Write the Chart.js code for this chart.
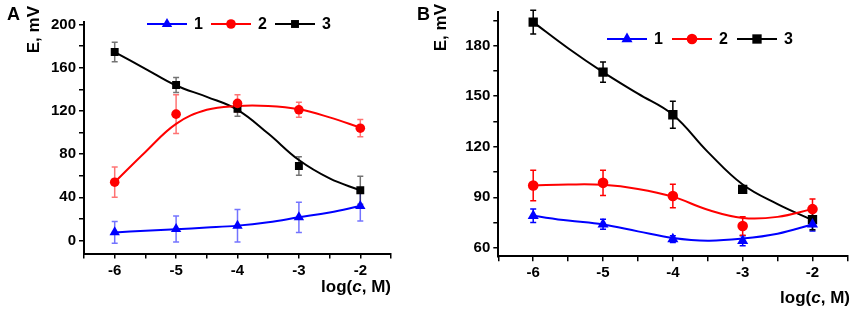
<!DOCTYPE html>
<html>
<head>
<meta charset="utf-8">
<script src="https://cdn.jsdelivr.net/npm/chart.js@4.4.0/dist/chart.umd.min.js"></script>
<style>
  body { margin: 0; background: #fff; }
  #wrap { position: relative; width: 854px; height: 310px; }
  #chartA { position: absolute; left: 0; top: 0; }
  #chartB { position: absolute; left: 415px; top: 0; }
</style>
</head>
<body>
<div id="wrap">
  <canvas id="chartA" width="415" height="310"></canvas>
  <canvas id="chartB" width="439" height="310"></canvas>
</div>
<script>
// concentrations (log c) of the measured points and x positions where the fit curves were read
const xVals = [-6, -5, -4, -3, -2];
const fitX = [-6, -5.5, -5, -4.5, -4, -3.5, -3, -2.5, -2];
const seriesLabels = ['1', '2', '3'];

// panel A
const a1 = [7.6, 10.6, 13.7, 21.5, 32];
const a1Err = [10, 12, 15, 14, 14];
const a2 = [54, 117, 127, 121, 104];
const a2Err = [14, 18, 8, 7, 8];
const a3 = [174.5, 144, 122, 69, 46.5];
const a3Err = [9, 7, 7, 8.5, 13];
const fitA1 = [7.5, 9, 10.5, 12, 13.8, 17, 21.5, 26, 32];
const fitA2 = [54, 82, 108, 121, 124.5, 124.5, 121.5, 114, 104.5];
const fitA3 = [174.5, 159, 143.5, 133, 121, 99, 74.5, 57.5, 46.5];

// panel B
const b1 = [79, 74, 65.2, 64.2, 74];
const b1Err = [4, 3, 2, 3, 4];
const b2 = [97, 98.6, 90.8, 73, 83];
const b2Err = [9, 7.5, 7, 5.5, 6];
const b3 = [194, 164.3, 139, 94.7, 76.8];
const b3Err = [7, 6, 8, 2, 6];
const fitB1 = [79, 76.2, 73.9, 69.8, 65.9, 64.3, 65.5, 68.4, 73.9];
const fitB2 = [97, 97.6, 97.4, 95, 90.4, 82.6, 77.8, 78.4, 83];
const fitB3 = [194, 178.5, 164.3, 151.5, 139, 117, 97.6, 86, 76.5];

const colors = ['#0000ff', '#ff0000', '#000000'];
const styles = ['triangle', 'circle', 'rect'];
const FONT = '"Liberation Sans", Arial, sans-serif';

const pts = (xs, ys) => xs.map((x, i) => ({ x: x, y: ys[i] }));

// vertical error bars behind the markers
const errorBars = {
  id: 'errorBars',
  beforeDatasetsDraw(chart) {
    const ctx = chart.ctx;
    const ys = chart.scales.y;
    chart.data.datasets.forEach((ds, i) => {
      if (!ds.errors) return;
      const meta = chart.getDatasetMeta(i);
      ctx.save();
      ctx.strokeStyle = ds.errorColor;
      ctx.lineWidth = 1.5;
      meta.data.forEach((el, j) => {
        const v = ds.data[j].y, e = ds.errors[j];
        const top = ys.getPixelForValue(v + e), bot = ys.getPixelForValue(v - e);
        ctx.beginPath();
        ctx.moveTo(el.x, top); ctx.lineTo(el.x, bot);
        ctx.moveTo(el.x - 3, top); ctx.lineTo(el.x + 3, top);
        ctx.moveTo(el.x - 3, bot); ctx.lineTo(el.x + 3, bot);
        ctx.stroke();
      });
      ctx.restore();
    });
  }
};

// legend (line + marker + number), panel letter and axis titles
const decorations = {
  id: 'decorations',
  afterDraw(chart, args, o) {
    const ctx = chart.ctx;
    ctx.save();
    ctx.fillStyle = '#000';
    ctx.textBaseline = 'middle';

    // legend
    let x = o.legendX;
    seriesLabels.forEach((lab, i) => {
      ctx.strokeStyle = colors[i];
      ctx.lineWidth = 2;
      ctx.beginPath();
      ctx.moveTo(x, o.legendY); ctx.lineTo(x + 40, o.legendY);
      ctx.stroke();
      ctx.fillStyle = colors[i];
      Chart.helpers.drawPoint(ctx, { pointStyle: styles[i], radius: o.radii[i], borderWidth: 0, rotation: 0 }, x + 20, o.legendY);
      ctx.fillStyle = '#000';
      ctx.font = 'bold 16px ' + FONT;
      ctx.textAlign = 'left';
      ctx.fillText(lab, x + 47, o.legendY + 1);
      x += o.legendStep;
    });

    // panel letter
    ctx.textBaseline = 'alphabetic';
    ctx.font = 'bold 18px ' + FONT;
    ctx.textAlign = 'left';
    ctx.fillText(o.letter, o.letterX, o.letterY);

    // y title, rotated, at the top
    ctx.save();
    ctx.translate(o.yTitleX, o.yTitleTop);
    ctx.rotate(-Math.PI / 2);
    ctx.textAlign = 'right';
    ctx.textBaseline = 'middle';
    ctx.font = 'bold 17px ' + FONT;
    ctx.fillText('E, mV', 0, 0);
    ctx.restore();

    // x title with italic c
    ctx.textBaseline = 'middle';
    const parts = [['log(', 'bold 17px '], ['c', 'italic bold 17px '], [', M)', 'bold 17px ']];
    let w = 0;
    parts.forEach(p => { ctx.font = p[1] + FONT; w += ctx.measureText(p[0]).width; });
    let px = o.xTitleRight - w;
    ctx.textAlign = 'left';
    parts.forEach(p => {
      ctx.font = p[1] + FONT;
      ctx.fillText(p[0], px, o.xTitleY);
      px += ctx.measureText(p[0]).width;
    });
    ctx.restore();
  }
};

function makeDatasets(series, errs, fits, radii, errAlpha) {
  const ds = [];
  fits.forEach((f, i) => {
    ds.push({
      data: pts(fitX, f),
      showLine: true,
      borderColor: colors[i],
      borderWidth: 2,
      pointRadius: 0,
      tension: 0.4,
      order: 2
    });
  });
  series.forEach((s, i) => {
    const c = i === 0 ? '0,0,255' : i === 1 ? '255,0,0' : '0,0,0';
    ds.push({
      label: seriesLabels[i],
      data: pts(xVals, s),
      errors: errs[i],
      errorColor: 'rgba(' + c + ',' + errAlpha + ')',
      showLine: false,
      pointStyle: styles[i],
      pointRadius: radii[i],
      pointHoverRadius: radii[i],
      backgroundColor: colors[i],
      borderColor: colors[i],
      borderWidth: 0,
      order: 1
    });
  });
  return ds;
}

function axes(yMin, yMax, yStep, yMajor) {
  const tickFont = { family: FONT, size: 15, weight: 'bold' };
  return {
    x: {
      type: 'linear', min: -6.5, max: -1.5,
      border: { display: true, color: '#000', width: 2 },
      grid: { drawOnChartArea: false, drawTicks: true, tickLength: 5, color: '#000', lineWidth: 1.5 },
      ticks: {
        stepSize: 0.5, autoSkip: false, maxRotation: 0, color: '#000', font: tickFont, padding: 3,
        callback: v => (Number.isInteger(v) && v >= -6 && v <= -2) ? String(v) : ''
      },
      afterFit: s => { s.height = 30; }
    },
    y: {
      type: 'linear', min: yMin, max: yMax,
      border: { display: true, color: '#000', width: 2 },
      grid: { drawOnChartArea: false, drawTicks: true, tickLength: 5, color: '#000', lineWidth: 1.5 },
      ticks: {
        stepSize: yStep, includeBounds: false, autoSkip: false, color: '#000', font: tickFont, padding: 3,
        callback: v => (v % yMajor === 0) ? String(v) : ''
      },
      afterFit: s => { s.width = 50; }
    }
  };
}

new Chart(document.getElementById('chartA'), {
  type: 'scatter',
  data: { datasets: makeDatasets([a1, a2, a3], [a1Err, a2Err, a3Err], [fitA1, fitA2, fitA3], [6, 4.8, 5.6], 0.55) },
  options: {
    responsive: false,
    animation: false,
    layout: { padding: { left: 34, right: 24, top: 22.3, bottom: 26.5 } },
    scales: axes(-12, 202, 20, 40),
    plugins: {
      legend: { display: false },
      tooltip: { enabled: false },
      decorations: {
        legendX: 147, legendY: 24, legendStep: 64, radii: [6, 4.8, 5.6],
        letter: 'A', letterX: 7, letterY: 20,
        yTitleX: 34, yTitleTop: 6,
        xTitleRight: 391, xTitleY: 287
      }
    }
  },
  plugins: [errorBars, decorations]
});

new Chart(document.getElementById('chartB'), {
  type: 'scatter',
  data: { datasets: makeDatasets([b1, b2, b3], [b1Err, b2Err, b3Err], [fitB1, fitB2, fitB3], [6.4, 5.3, 6.6], 1) },
  options: {
    responsive: false,
    animation: false,
    layout: { padding: { left: 33.3, right: 4.7, top: 8, bottom: 23.7 } },
    scales: axes(55, 200, 15, 30),
    plugins: {
      legend: { display: false },
      tooltip: { enabled: false },
      decorations: {
        legendX: 192, legendY: 39, legendStep: 65, radii: [6.4, 5.3, 6.6],
        letter: 'B', letterX: 2, letterY: 20,
        yTitleX: 26, yTitleTop: 4,
        xTitleRight: 435, xTitleY: 298
      }
    }
  },
  plugins: [errorBars, decorations]
});
</script>
</body>
</html>
